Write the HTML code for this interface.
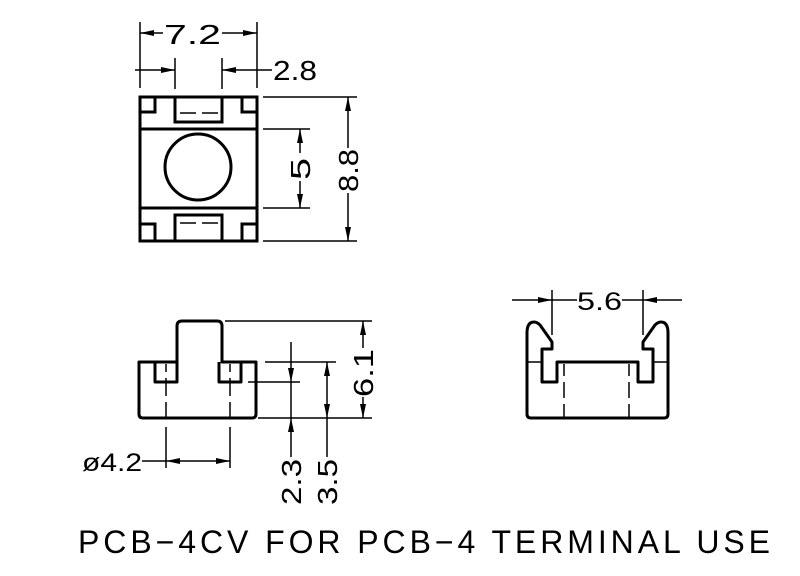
<!DOCTYPE html>
<html><head><style>body{margin:0;background:#fff}svg{display:block}</style></head>
<body>
<svg width="800" height="576" viewBox="0 0 800 576" xmlns="http://www.w3.org/2000/svg" font-family="Liberation Sans, sans-serif">
<g stroke="#000" fill="none">
<g stroke-width="3">
<rect x="140" y="97" width="117" height="144"/>
<line x1="140" y1="129" x2="257" y2="129"/>
<line x1="140" y1="208" x2="257" y2="208"/>
<polyline points="140,112 155,112 155,97"/>
<polyline points="257,112 242,112 242,97"/>
<polyline points="140,224 155,224 155,241"/>
<polyline points="257,224 242,224 242,241"/>
<polyline points="175,97 175,122 222,122 222,97"/>
<polyline points="175,241 175,215 222,215 222,241"/>
<circle cx="198" cy="167" r="33"/>
</g>
<g stroke-width="1.5">
<line x1="180" y1="113" x2="196" y2="113"/><line x1="202" y1="113" x2="218" y2="113"/>
<line x1="180" y1="223" x2="196" y2="223"/><line x1="202" y1="223" x2="218" y2="223"/>
<line x1="140" y1="22" x2="140" y2="88"/><line x1="257" y1="22" x2="257" y2="88"/>
<line x1="140" y1="33" x2="163" y2="33"/><line x1="222" y1="33" x2="257" y2="33"/>
<line x1="175" y1="58" x2="175" y2="89"/><line x1="222" y1="58" x2="222" y2="89"/>
<line x1="135" y1="70" x2="175" y2="70"/><line x1="222" y1="70" x2="272" y2="70"/>
<line x1="263" y1="97" x2="357" y2="97"/><line x1="263" y1="241" x2="357" y2="241"/>
<line x1="348" y1="97" x2="348" y2="148"/><line x1="348" y1="193" x2="348" y2="241"/>
<line x1="263" y1="129" x2="310" y2="129"/><line x1="263" y1="208" x2="310" y2="208"/>
<line x1="300" y1="129" x2="300" y2="153"/><line x1="300" y1="181" x2="300" y2="208"/>
</g>
<g stroke-width="3" stroke-linejoin="round">
<path d="M139,362 H177 V326 Q177,321 182,321 H217 Q222,321 222,326 V362 H256 V414 Q256,418 252,418 H143 Q139,418 139,414 Z"/>
<polyline points="155,362 155,382 177,382 177,362"/>
<polyline points="241,362 241,382 219,382 219,362"/>
</g>
<g stroke-width="1.5">
<line x1="166" y1="364" x2="166" y2="372"/><line x1="166" y1="378" x2="166" y2="396"/><line x1="166" y1="402" x2="166" y2="418"/>
<line x1="230" y1="364" x2="230" y2="372"/><line x1="230" y1="378" x2="230" y2="396"/><line x1="230" y1="402" x2="230" y2="418"/>
<line x1="166" y1="427" x2="166" y2="468"/><line x1="230" y1="427" x2="230" y2="468"/>
<line x1="142" y1="461" x2="230" y2="461"/>
<line x1="225" y1="321" x2="372" y2="321"/><line x1="258" y1="418" x2="372" y2="418"/>
<line x1="363" y1="321" x2="363" y2="348"/><line x1="363" y1="397" x2="363" y2="418"/>
<line x1="248" y1="382" x2="300" y2="382"/><line x1="265" y1="362" x2="336" y2="362"/>
<line x1="291" y1="342" x2="291" y2="457"/>
<line x1="327" y1="362" x2="327" y2="457"/>
</g>
<g stroke-width="3" stroke-linejoin="round">
<path d="M527,414 V333 Q527,322 534,322 Q537,322 540,325 L552,342 V349 H542 V382 H557 V362 H638 V382 H653 V349 H643 V342 L655,325 Q658,322 661,322 Q668,322 668,333 V414 Q668,418 664,418 H531 Q527,418 527,414 Z"/>
</g>
<g stroke-width="1.5">
<line x1="527" y1="362" x2="542" y2="362"/><line x1="653" y1="362" x2="668" y2="362"/>
<line x1="564" y1="364" x2="564" y2="376"/><line x1="564" y1="382" x2="564" y2="398"/><line x1="564" y1="404" x2="564" y2="418"/>
<line x1="629" y1="364" x2="629" y2="376"/><line x1="629" y1="382" x2="629" y2="398"/><line x1="629" y1="404" x2="629" y2="418"/>
<line x1="552" y1="290" x2="552" y2="335"/><line x1="643" y1="290" x2="643" y2="335"/>
<line x1="512" y1="300" x2="577" y2="300"/><line x1="622" y1="300" x2="682" y2="300"/>
</g>
</g>
<g fill="#000">
<polygon points="140,33 154,30 154,36"/><polygon points="257,33 243,30 243,36"/>
<polygon points="175,70 161,67 161,73"/><polygon points="222,70 236,67 236,73"/>
<polygon points="348,97 345,111 351,111"/><polygon points="348,241 345,227 351,227"/>
<polygon points="300,129 297,143 303,143"/><polygon points="300,208 297,194 303,194"/>
<polygon points="166,461 180,458 180,464"/><polygon points="230,461 216,458 216,464"/>
<polygon points="363,321 360,335 366,335"/><polygon points="363,418 360,404 366,404"/>
<polygon points="291,382 288,368 294,368"/><polygon points="291,418 288,432 294,432"/>
<polygon points="327,362 324,376 330,376"/><polygon points="327,418 324,404 330,404"/>
<polygon points="552,300 538,297 538,303"/><polygon points="643,300 657,297 657,303"/>
</g>
<g font-size="28" fill="#000" lengthAdjust="spacingAndGlyphs">
<text x="164" y="44" textLength="57" lengthAdjust="spacingAndGlyphs">7.2</text>
<text x="273" y="80" textLength="44" lengthAdjust="spacingAndGlyphs">2.8</text>
<text x="577" y="310" font-size="25" textLength="45" lengthAdjust="spacingAndGlyphs">5.6</text>
<text x="82" y="471" font-size="25" textLength="60" lengthAdjust="spacingAndGlyphs">ø4.2</text>
<text transform="translate(358,192) rotate(-90)" textLength="43" lengthAdjust="spacingAndGlyphs">8.8</text>
<text transform="translate(310,180) rotate(-90)" textLength="22" lengthAdjust="spacingAndGlyphs">5</text>
<text transform="translate(373,397) rotate(-90)" textLength="48" lengthAdjust="spacingAndGlyphs">6.1</text>
<text transform="translate(301,505) rotate(-90)" textLength="46" lengthAdjust="spacingAndGlyphs">2.3</text>
<text transform="translate(337,505) rotate(-90)" textLength="46" lengthAdjust="spacingAndGlyphs">3.5</text>
</g>
<text x="78" y="553" font-size="32" textLength="692" lengthAdjust="spacing" fill="#000">PCB−4CV FOR PCB−4 TERMINAL USE</text>
</svg>
</body></html>
